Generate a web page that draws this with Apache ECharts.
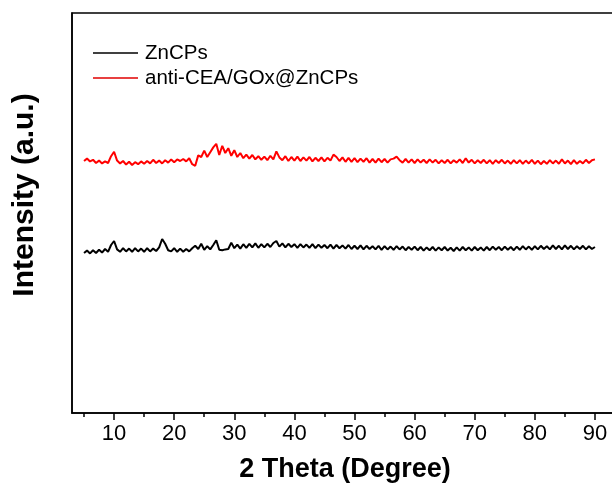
<!DOCTYPE html>
<html>
<head>
<meta charset="utf-8">
<script src="https://cdn.jsdelivr.net/npm/echarts@6/dist/echarts.min.js"></script>
<style>html,body{margin:0;padding:0;background:#fff}#c{width:612px;height:498px}</style>
</head>
<body>
<div id="c"></div>
<script>
var seriesNames = ['ZnCPs', 'anti-CEA/GOx@ZnCPs'];
var xTickLabels = [10, 20, 30, 40, 50, 60, 70, 80, 90];
var xMinorTicks = [5, 15, 25, 35, 45, 55, 65, 75, 85];
var xTitle = '2 Theta (Degree)';
var yTitle = 'Intensity (a.u.)';

var theta = [
 5.0,5.5,6.0,6.5,7.0,7.5,8.0,8.5,9.0,9.5,
 10.0,10.5,11.0,11.5,12.0,12.5,13.0,13.5,14.0,14.5,
 15.0,15.5,16.0,16.5,17.0,17.5,18.0,18.5,19.0,19.5,
 20.0,20.5,21.0,21.5,22.0,22.5,23.0,23.5,24.0,24.5,
 25.0,25.5,26.0,26.5,27.0,27.5,28.0,28.5,29.0,29.5,
 30.0,30.5,31.0,31.5,32.0,32.5,33.0,33.5,34.0,34.5,
 35.0,35.5,36.0,36.5,37.0,37.5,38.0,38.5,39.0,39.5,
 40.0,40.5,41.0,41.5,42.0,42.5,43.0,43.5,44.0,44.5,
 45.0,45.5,46.0,46.5,47.0,47.5,48.0,48.5,49.0,49.5,
 50.0,50.5,51.0,51.5,52.0,52.5,53.0,53.5,54.0,54.5,
 55.0,55.5,56.0,56.5,57.0,57.5,58.0,58.5,59.0,59.5,
 60.0,60.5,61.0,61.5,62.0,62.5,63.0,63.5,64.0,64.5,
 65.0,65.5,66.0,66.5,67.0,67.5,68.0,68.5,69.0,69.5,
 70.0,70.5,71.0,71.5,72.0,72.5,73.0,73.5,74.0,74.5,
 75.0,75.5,76.0,76.5,77.0,77.5,78.0,78.5,79.0,79.5,
 80.0,80.5,81.0,81.5,82.0,82.5,83.0,83.5,84.0,84.5,
 85.0,85.5,86.0,86.5,87.0,87.5,88.0,88.5,89.0,89.5,
 90.0
];

var znCPs = [
 40.0,40.6,39.9,40.7,40.0,40.8,40.1,41.0,40.3,42.0,
 43.0,40.9,40.3,41.2,40.4,41.1,40.3,41.2,40.4,41.1,
 40.3,41.2,40.4,41.1,40.5,41.4,43.5,42.3,40.7,40.4,
 41.2,40.3,41.1,40.3,41.0,40.4,41.2,41.8,41.0,42.3,
 40.8,41.7,40.9,42.0,43.2,40.8,40.7,40.9,41.0,42.6,
 41.2,42.1,41.1,42.2,41.3,42.3,41.4,42.4,41.3,42.2,
 41.4,42.3,41.5,42.5,43.0,41.6,42.4,41.4,42.3,41.5,
 42.2,41.3,42.2,41.4,42.1,41.3,42.2,41.2,42.1,41.3,
 42.0,41.2,42.1,41.1,42.0,41.2,41.9,41.1,42.0,41.0,
 41.8,41.0,41.9,40.9,41.8,41.0,41.7,40.9,41.8,40.8,
 41.7,40.9,41.6,40.8,41.7,40.9,41.6,40.7,41.5,40.8,
 41.6,40.7,41.5,40.6,41.4,40.7,41.5,40.6,41.4,40.7,
 41.5,40.6,41.3,40.5,41.4,40.6,41.5,40.7,41.4,40.6,
 41.5,40.7,41.4,40.6,41.5,40.7,41.6,40.8,41.5,40.7,
 41.6,40.8,41.5,40.7,41.6,40.8,41.7,40.9,41.6,40.8,
 41.7,40.9,41.8,41.0,41.7,40.9,41.9,41.0,41.8,40.9,
 41.9,41.0,41.8,40.9,41.7,41.0,41.8,40.9,41.7,41.0,
 41.5
];

var antiCEA = [
 63.0,63.6,62.9,63.3,62.5,63.1,62.4,62.9,62.5,64.2,
 65.3,63.1,62.4,63.0,62.1,62.8,62.0,62.7,62.2,62.9,
 62.3,63.0,62.4,63.3,62.5,63.1,62.4,63.2,62.6,63.4,
 62.7,63.4,63.0,63.5,62.9,63.7,62.2,61.8,64.4,64.0,
 65.6,64.0,65.2,66.4,67.3,64.5,66.8,65.0,66.2,64.3,
 65.7,64.0,65.0,63.7,64.6,63.6,64.5,63.4,64.2,63.3,
 64.1,63.2,64.3,63.4,65.4,63.9,63.2,64.2,63.0,64.0,
 63.1,64.1,63.0,63.9,63.1,64.0,62.9,63.8,63.0,63.9,
 62.9,63.8,63.1,64.6,64.0,63.0,63.9,62.8,63.8,62.8,
 63.7,62.7,63.6,62.8,63.7,62.6,63.5,62.6,63.6,62.7,
 63.5,62.6,63.4,63.6,64.1,63.2,62.6,63.5,62.6,63.4,
 62.5,63.4,62.6,63.3,62.5,63.4,62.6,63.3,62.4,63.2,
 62.5,63.3,62.4,63.2,62.6,63.4,62.5,63.7,62.6,63.3,
 62.4,63.2,62.5,63.3,62.4,63.2,62.3,63.2,62.5,63.3,
 62.4,63.1,62.3,63.2,62.4,63.2,62.3,63.1,62.4,63.3,
 62.3,63.1,62.2,63.0,62.3,63.2,62.4,63.1,62.3,63.4,
 62.4,63.1,62.2,63.2,62.3,63.0,62.4,63.3,62.5,63.2,
 63.4
];

function pairs(xs, ys) { var out = []; for (var i = 0; i < xs.length; i++) out.push([xs[i], ys[i]]); return out; }

var FONT = 'Liberation Sans, Arial, sans-serif';
var chart = echarts.init(document.getElementById('c'), null, {renderer: 'canvas'});
chart.setOption({
  animation: false,
  backgroundColor: '#fff',
  grid: {left: 72, top: 13, width: 553, height: 400, containLabel: false, outerBoundsMode: 'none',
    show: true, borderColor: '#000', borderWidth: 1.5, backgroundColor: 'transparent'},
  legend: {
    orient: 'vertical', left: 93, top: 42.5, itemGap: 4, padding: 0,
    itemWidth: 45, itemHeight: 1.5, icon: 'rect',
    textStyle: {fontFamily: FONT, fontSize: 20.5, color: '#000', padding: [0, 0, 0, 2]},
    data: [
      {name: seriesNames[0], itemStyle: {color: '#000'}},
      {name: seriesNames[1], itemStyle: {color: '#e00000'}}
    ]
  },
  xAxis: [{
    type: 'value', min: 3, max: 95,
    axisLine: {show: true, onZero: false, lineStyle: {color: '#000', width: 1.5}},
    axisTick: {show: true, length: 7, lineStyle: {color: '#000', width: 1.5},
      customValues: xTickLabels},
    axisLabel: {
      fontFamily: FONT, fontSize: 22, color: '#000', margin: 10,
      customValues: xTickLabels
    },
    splitLine: {show: false}
  }, {
    type: 'value', min: 3, max: 95, position: 'bottom',
    axisLine: {show: false, onZero: false},
    axisTick: {show: true, length: 4, lineStyle: {color: '#000', width: 1.5},
      customValues: xMinorTicks},
    axisLabel: {show: false, customValues: xMinorTicks},
    splitLine: {show: false}
  }],
  yAxis: {
    type: 'value', min: 0, max: 100,
    axisLine: {show: true, lineStyle: {color: '#000', width: 1.5}},
    axisTick: {show: false}, axisLabel: {show: false}, splitLine: {show: false}
  },
  graphic: [
    {type: 'text', x: 345, y: 470, style: {text: xTitle, font: 'bold 27px ' + FONT, fill: '#000', textAlign: 'center', textVerticalAlign: 'middle'}},
    {type: 'text', x: 25, y: 195, rotation: Math.PI / 2, style: {text: yTitle, font: 'bold 30px ' + FONT, fill: '#000', textAlign: 'center', textVerticalAlign: 'middle'}}
  ],
  series: [
    {name: seriesNames[0], type: 'line', symbol: 'none', data: pairs(theta, znCPs),
      lineStyle: {color: '#000', width: 2}, itemStyle: {color: '#000'}},
    {name: seriesNames[1], type: 'line', symbol: 'none', data: pairs(theta, antiCEA),
      lineStyle: {color: '#ff0000', width: 2}, itemStyle: {color: '#ff0000'}}
  ]
});
</script>
</body>
</html>
